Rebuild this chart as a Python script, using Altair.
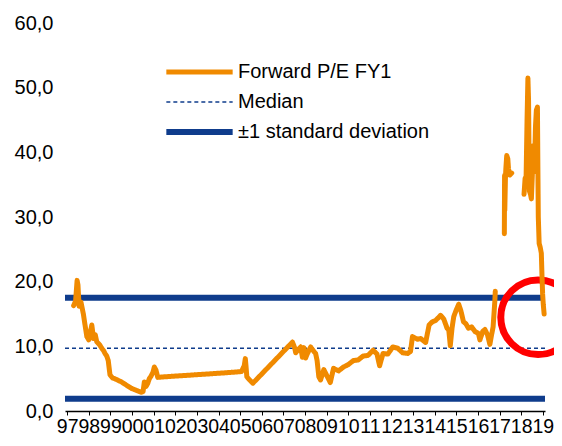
import altair as alt
import pandas as pd

# ---- Forward P/E FY1 (decimal years, values), three unbroken stretches ----
seg1_years = [1997.30, 1997.39, 1997.46, 1997.50, 1997.55, 1997.64, 1997.75, 1997.84, 1997.91, 1998.00,
              1998.14, 1998.22, 1998.30, 1998.37, 1998.51, 1998.60, 1998.69, 1998.75, 1998.83, 1998.90,
              1998.98, 1999.10, 1999.20, 1999.51, 1999.97, 2000.27, 2000.42, 2000.51, 2000.57, 2000.65,
              2000.73, 2000.80, 2000.88, 2000.97, 2001.03, 2001.11, 2001.19, 2001.56, 2002.93, 2004.30,
              2005.06, 2005.19, 2005.24, 2005.27, 2005.31, 2005.44, 2005.59, 2007.42, 2007.52, 2007.57,
              2007.68, 2007.80, 2007.88, 2007.95, 2008.03, 2008.10, 2008.26, 2008.41, 2008.49, 2008.56,
              2008.64, 2008.72, 2008.87, 2009.02, 2009.17, 2009.32, 2009.55, 2009.78, 2010.01, 2010.24,
              2010.46, 2010.69, 2010.92, 2011.15, 2011.33, 2011.45, 2011.61, 2011.83, 2012.06, 2012.29,
              2012.52, 2012.75, 2012.88, 2012.97, 2013.20, 2013.35, 2013.58, 2013.74, 2013.89, 2014.04,
              2014.16, 2014.27, 2014.42, 2014.57, 2014.65, 2014.72, 2014.80, 2014.88, 2014.98, 2015.11,
              2015.21, 2015.33, 2015.44, 2015.56, 2015.71, 2015.86, 2016.02, 2016.09, 2016.22, 2016.32,
              2016.44, 2016.55, 2016.63, 2016.70, 2016.78, 2016.80]
seg1_values = [16.3, 17.0, 20.2, 19.5, 16.2, 16.8, 15.0, 13.0, 11.5, 11.0,
               13.3, 11.2, 11.8, 10.7, 10.2, 9.7, 9.3, 8.9, 8.5, 7.8,
               5.6, 5.1, 5.0, 4.5, 3.5, 3.1, 2.9, 3.0, 4.5, 3.8,
               4.3, 5.0, 5.4, 6.0, 6.8, 6.3, 5.2, 5.3, 5.6, 5.9,
               6.1, 7.0, 8.1, 7.0, 5.3, 4.8, 4.3, 10.65, 9.8, 9.0,
               9.5, 9.9, 8.3, 9.8, 8.2, 8.8, 9.9, 9.2, 8.9, 7.8,
               5.3, 4.8, 6.4, 5.4, 4.4, 6.6, 6.2, 6.8, 7.2, 7.8,
               7.9, 8.5, 8.6, 9.4, 8.8, 7.0, 8.9, 8.8, 9.9, 9.7,
               9.0, 8.9, 9.2, 11.5, 11.1, 11.2, 10.6, 13.3, 13.8, 14.0,
               14.4, 14.8, 14.2, 12.8, 12.5, 10.1, 12.8, 14.6, 15.5, 16.5,
               15.5, 13.8, 13.5, 12.8, 13.0, 12.3, 12.0, 11.0, 12.3, 12.6,
               11.8, 10.3, 11.8, 13.0, 17.0, 18.5]

seg2_years = [2017.22, 2017.24, 2017.23, 2017.27, 2017.29, 2017.33, 2017.38, 2017.41, 2017.47, 2017.56]
seg2_values = [27.4, 31.0, 36.4, 36.0, 37.5, 39.5, 39.0, 37.5, 36.5, 36.8]

seg3_years = [2018.13, 2018.18, 2018.22, 2018.27, 2018.31, 2018.34, 2018.36, 2018.38, 2018.43, 2018.47,
              2018.52, 2018.56, 2018.61, 2018.66, 2018.70, 2018.75, 2018.77, 2018.79, 2018.83, 2018.88,
              2018.93, 2018.96, 2018.99, 2019.02, 2019.06]
seg3_values = [33.5, 36.0, 35.0, 45.0, 51.5, 48.0, 40.0, 34.0, 33.5, 32.8,
               37.0, 41.0, 37.0, 44.0, 46.5, 47.0, 38.0, 30.0, 25.9, 25.3,
               24.4, 21.0, 18.1, 16.5, 15.0]

series_names = ["Forward P/E FY1", "Median", "±1 standard deviation"]
series_colors = ["#F08A00", "#0F3C8C", "#0F3C8C"]
series_dashes = [[1, 0], [4, 3], [1, 0]]
series_widths = [5, 1.5, 6]

median_value = 9.7
band_values = [17.5, 1.9]

highlight_years = [2018.78]
highlight_values = [14.5]

x_ticks = list(range(1997, 2020))
y_ticks = [0, 10, 20, 30, 40, 50, 60]

FONT = "Liberation Sans"

# ---- tables ----
line_df = pd.concat([
    pd.DataFrame({"year": seg1_years, "value": seg1_values, "seg": 1}),
    pd.DataFrame({"year": seg2_years, "value": seg2_values, "seg": 2}),
    pd.DataFrame({"year": seg3_years, "value": seg3_values, "seg": 3}),
], ignore_index=True)
line_df["series"] = series_names[0]

rule_df = pd.DataFrame({
    "series": [series_names[1]] + [series_names[2]] * len(band_values),
    "value": [median_value] + band_values,
})

hl_df = pd.DataFrame({"year": highlight_years, "value": highlight_values})

x_scale = alt.Scale(domain=[1996.9, 2019.1], nice=False, zero=False)
y_scale = alt.Scale(domain=[0, 60], nice=False)

color_enc = alt.Color(
    "series:N",
    scale=alt.Scale(domain=series_names, range=series_colors),
    legend=alt.Legend(
        orient="none", legendX=98, legendY=39, title=None, symbolType="stroke",
        symbolSize=4400, labelFontSize=20, labelFont=FONT, labelColor="black",
        labelOffset=2, clipHeight=20, rowPadding=10, padding=0, labelLimit=400,
    ),
)
dash_enc = alt.StrokeDash("series:N", scale=alt.Scale(domain=series_names, range=series_dashes))
width_enc = alt.StrokeWidth("series:N", scale=alt.Scale(type="ordinal", domain=series_names, range=series_widths))

y_axis = alt.Axis(values=y_ticks, title=None, grid=False, domain=False, ticks=False,
                  labelPadding=12, labelFontSize=20, labelFont=FONT, labelColor="black",
                  labelOverlap=False,
                  labelExpr="replace(format(datum.value, '.1f'), '.', ',')")
x_axis = alt.Axis(values=x_ticks, title=None, grid=False, domainColor="black", domainWidth=1.5,
                  tickColor="black", tickSize=4, tickWidth=1, labelPadding=2,
                  labelFontSize=19.5, labelFont=FONT, labelColor="black", labelOverlap=False,
                  labelExpr="substring(toString(datum.value), 2, 4)")

x_enc = alt.X("year:Q", scale=x_scale, axis=x_axis)
y_enc = alt.Y("value:Q", scale=y_scale, axis=y_axis)

rules = alt.Chart(rule_df).mark_rule().encode(
    y=y_enc,
    color=color_enc, strokeDash=dash_enc, strokeWidth=width_enc,
)

circle = alt.Chart(hl_df).mark_point(
    shape="circle", size=5565, filled=False, stroke="#FF0000", strokeWidth=7, opacity=1
).encode(x=x_enc, y=y_enc)

line = alt.Chart(line_df).mark_line(strokeCap="round", strokeJoin="round").encode(
    x=x_enc, y=y_enc, detail="seg:N",
    color=color_enc, strokeDash=dash_enc, strokeWidth=width_enc,
    order="year:Q",
)

chart = alt.layer(rules, circle, line).properties(
    width=480, height=388,
    autosize=alt.AutoSizeParams(type="none"),
    padding={"left": 57, "top": 15, "right": 9, "bottom": 29},
).configure_view(stroke=None).configure_axis(labelOverlap=False)

chart.save("out.html", embed_options={"renderer": "svg", "actions": False})
